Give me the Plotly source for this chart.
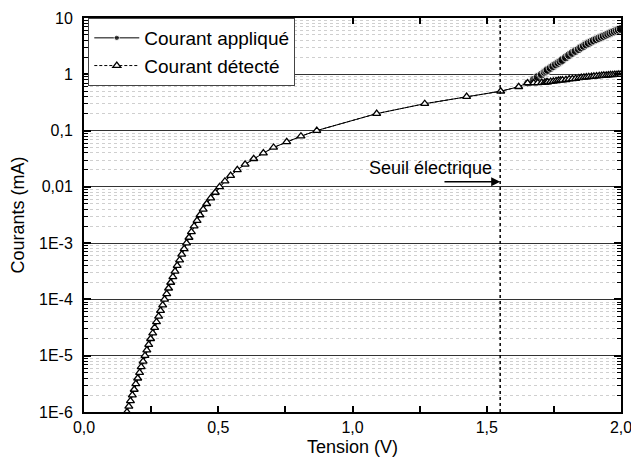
import plotly.graph_objects as go

# --- data (V in volts, currents in mA) ---
# low-current part: both curves coincide
tension_bas = [0.160, 0.167, 0.173, 0.180, 0.187, 0.193, 0.200, 0.207, 0.213, 0.220,
               0.227, 0.234, 0.241, 0.248, 0.256, 0.263, 0.270, 0.278, 0.285, 0.293,
               0.300, 0.308, 0.315, 0.323, 0.331, 0.339, 0.347, 0.356, 0.364, 0.373,
               0.382, 0.391, 0.400, 0.410, 0.421, 0.432, 0.444, 0.457, 0.472, 0.489,
               0.505, 0.525, 0.546, 0.571, 0.600, 0.632, 0.668, 0.706, 0.755, 0.808,
               0.867, 1.090, 1.269, 1.425, 1.552, 1.619, 1.652]
courant_bas = [1e-6, 1.26e-6, 1.58e-6, 2e-6, 2.51e-6, 3.16e-6, 3.98e-6, 5.01e-6, 6.31e-6, 7.94e-6,
               1e-5, 1.26e-5, 1.58e-5, 2e-5, 2.51e-5, 3.16e-5, 3.98e-5, 5.01e-5, 6.31e-5, 7.94e-5,
               1e-4, 1.26e-4, 1.58e-4, 2e-4, 2.51e-4, 3.16e-4, 3.98e-4, 5.01e-4, 6.31e-4, 7.94e-4,
               1e-3, 1.26e-3, 1.58e-3, 2e-3, 2.51e-3, 3.16e-3, 3.98e-3, 5.01e-3, 6.31e-3, 7.94e-3,
               0.01, 0.0126, 0.0158, 0.02, 0.0251, 0.0316, 0.0398, 0.0501, 0.0631, 0.0794,
               0.1, 0.2, 0.3, 0.4, 0.5, 0.6, 0.7]

# above the electrical threshold the two curves split
tension_haut = [1.675, 1.690, 1.705, 1.716, 1.722, 1.727, 1.738, 1.748, 1.758, 1.767,
                1.775, 1.782, 1.795, 1.807, 1.819, 1.831, 1.843, 1.852, 1.862, 1.871,
                1.880, 1.890, 1.899, 1.909, 1.919, 1.928, 1.936, 1.945, 1.953, 1.961,
                1.969, 1.977, 1.985, 1.992, 2.000]
applique_haut = [0.8, 0.9, 1.0, 1.1, 1.15, 1.2, 1.3, 1.4, 1.5, 1.6,
                 1.7, 1.8, 2.0, 2.2, 2.4, 2.6, 2.8, 3.0, 3.2, 3.4,
                 3.6, 3.8, 4.0, 4.2, 4.4, 4.6, 4.8, 5.0, 5.2, 5.4,
                 5.6, 5.8, 6.0, 6.2, 6.4]
detecte_haut = [0.70, 0.705, 0.71, 0.72, 0.725, 0.73, 0.74, 0.75, 0.765, 0.78,
                0.785, 0.79, 0.80, 0.82, 0.83, 0.84, 0.86, 0.87, 0.88, 0.89,
                0.90, 0.91, 0.92, 0.93, 0.94, 0.95, 0.955, 0.96, 0.97, 0.975,
                0.98, 0.985, 0.99, 0.995, 1.0]

seuil = 1.55

y_ticks = [1e-6, 1e-5, 1e-4, 1e-3, 0.01, 0.1, 1, 10]
y_labels = ["1E-6", "1E-5", "1E-4", "1E-3", "0,01", "0,1", "1", "10"]
x_ticks = [0, 0.5, 1.0, 1.5, 2.0]
x_labels = ["0,0", "0,5", "1,0", "1,5", "2,0"]

FONT = "Liberation Sans, Arial, sans-serif"

# small dots where the curves overlap (hidden under the triangles), big ones above threshold
taille_rond = [3] * (len(tension_bas) - 1) + [8] + [9] * len(tension_haut)

fig = go.Figure()

fig.add_trace(go.Scatter(
    x=tension_bas + tension_haut,
    y=courant_bas + applique_haut,
    mode="lines+markers",
    name="Courant appliqué",
    line=dict(color="black", width=1),
    marker=dict(symbol="circle", size=taille_rond, color="black"),
))

fig.add_trace(go.Scatter(
    x=tension_bas + tension_haut,
    y=courant_bas + detecte_haut,
    mode="lines+markers",
    name="Courant détecté",
    line=dict(color="black", width=1, dash="3px,2px"),
    marker=dict(symbol="triangle-up", size=7, color="white",
                line=dict(color="black", width=1.3)),
))

# electrical threshold
fig.add_shape(type="line", x0=seuil, x1=seuil, y0=0, y1=1, xref="x", yref="paper",
              line=dict(color="black", width=1.5, dash="dot"))

fig.add_annotation(x=1.292, y=-1.664, xref="x", yref="y", text="Seuil électrique",
                   showarrow=False, font=dict(size=18, color="black", family=FONT))
fig.add_annotation(x=seuil, y=-1.908, xref="x", yref="y", ax=1.337, ay=-1.908,
                   axref="x", ayref="y", text="", showarrow=True,
                   arrowhead=2, arrowsize=1.2, arrowwidth=1.5, arrowcolor="black")

# x axis title
fig.add_annotation(x=0.5, y=-0.09, xref="paper", yref="paper", text="Tension (V)",
                   showarrow=False, yanchor="middle",
                   font=dict(size=18, color="black", family=FONT))

fig.update_layout(
    width=631, height=468,
    margin=dict(l=84, r=10, t=18, b=56),
    paper_bgcolor="white", plot_bgcolor="white",
    font=dict(family=FONT, size=15, color="black"),
    showlegend=True,
    legend=dict(x=0.008, y=1, xanchor="left", yanchor="top",
                bgcolor="white", bordercolor="#444", borderwidth=1,
                font=dict(size=19, family=FONT), tracegroupgap=0, itemwidth=45),
)

fig.update_xaxes(
    range=[0, 2], tickvals=x_ticks, ticktext=x_labels, automargin=False,
    showline=True, linecolor="black", linewidth=2, mirror="allticks",
    ticks="inside", ticklen=6, tickwidth=1.5, tickcolor="black", ticklabelstandoff=0,
    ticklabeloverflow="allow",
    minor=dict(dtick=0.25, ticks="inside", ticklen=6, tickwidth=1.5, tickcolor="black", showgrid=False),
    showgrid=False, zeroline=False,
    tickfont=dict(size=16),
)

fig.update_yaxes(
    type="log", range=[-6, 1], tickvals=y_ticks, ticktext=y_labels, automargin=False,
    showline=True, linecolor="black", linewidth=2, mirror="allticks",
    ticks="inside", ticklen=7, tickwidth=1.5, tickcolor="black", ticklabelstandoff=6,
    ticklabeloverflow="allow",
    showgrid=True, gridcolor="#333", gridwidth=1.2,
    minor=dict(dtick="D1", ticks="inside", ticklen=4, tickwidth=1, tickcolor="black",
               showgrid=True, gridcolor="#cfcfcf", griddash="dot", gridwidth=1),
    zeroline=False,
    title=dict(text="Courants (mA)", font=dict(size=18, family=FONT), standoff=10),
    tickfont=dict(size=16),
)

fig.write_html("out.html", config={"displayModeBar": False},
               post_script="document.body.style.margin='0';")
